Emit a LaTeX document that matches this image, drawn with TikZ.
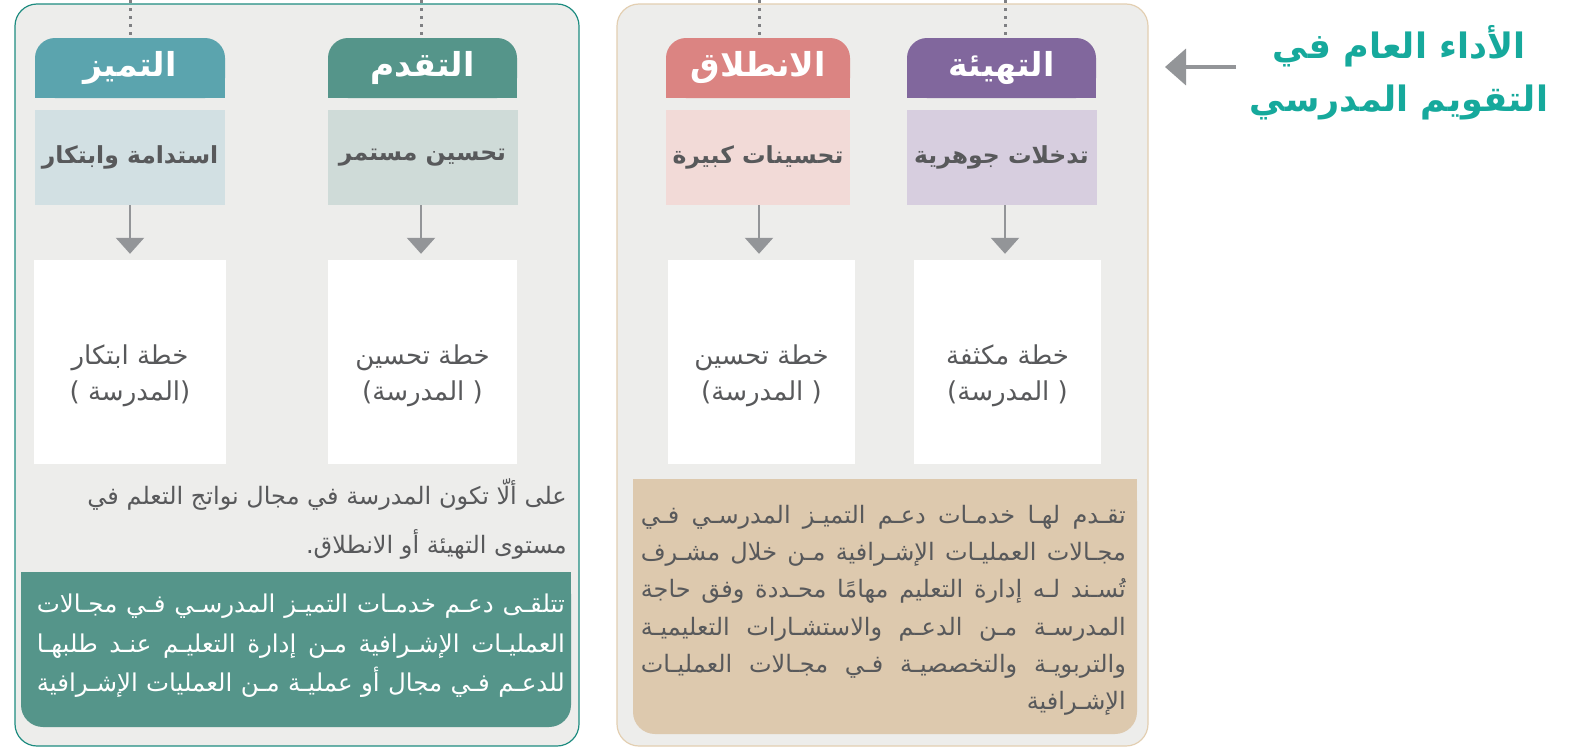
\documentclass[tikz,border=0pt]{standalone}
\usepackage{fontspec}
\usetikzlibrary{arrows.meta}
\TeXXeTstate=1
\newfontfamily\arf[Script=Arabic]{DejaVu Sans}
\newfontfamily\arb[Script=Arabic]{DejaVu Sans Bold}
\definecolor{panelbg}{HTML}{EDEDEB}
\definecolor{tealborder}{HTML}{1E8C80}
\definecolor{tanborder}{HTML}{E3CFB2}
\definecolor{hTamayuz}{HTML}{5BA4AE}
\definecolor{hTaqaddum}{HTML}{55958A}
\definecolor{hIntilaq}{HTML}{DB8482}
\definecolor{hTahyia}{HTML}{81679D}
\definecolor{sTamayuz}{HTML}{D2E0E3}
\definecolor{sTaqaddum}{HTML}{CFDBD8}
\definecolor{sIntilaq}{HTML}{F2DAD7}
\definecolor{sTahyia}{HTML}{D7CEDF}
\definecolor{greenbox}{HTML}{55958A}
\definecolor{tanbox}{HTML}{DDC9AE}
\definecolor{txtgray}{HTML}{58595B}
\definecolor{arrgray}{HTML}{939598}
\definecolor{dotgray}{HTML}{7F8083}
\definecolor{titleteal}{HTML}{16A99C}
\begin{document}
\begin{tikzpicture}[x=1pt,y=-1pt,
  hdrtext/.style={text=white,font={\arb\fontsize{33}{38}\selectfont},inner sep=0pt,minimum width=190pt,minimum height=60pt},
  subbox/.style={font={\arb\fontsize{23.5}{28}\selectfont},text=txtgray,inner sep=0pt,minimum width=190pt,minimum height=95pt},
  planbox/.style={fill=white,inner sep=0pt,minimum width=188pt,minimum height=204pt},
  plantext/.style={font={\arf\fontsize{26}{36}\selectfont},text=txtgray,inner sep=0pt,align=center},
  dots/.style={draw=dotgray,line width=3pt,dash pattern=on 3pt off 5pt},
  downarr/.style={draw=arrgray,line width=2.4pt,-{Triangle[width=28pt,length=16pt]}},
  leftarr/.style={draw=arrgray,line width=4pt,-{Triangle[width=36pt,length=21pt]}},
  bodytext/.style={inner sep=0pt,align=right}
]
\useasboundingbox (0,0) rectangle (1573,755);
\fill[white] (0,0) rectangle (1573,755);

% panels
\draw[fill=panelbg,draw=tealborder,line width=1.2pt,rounded corners=22pt] (15,4) rectangle (579,746);
\draw[fill=panelbg,draw=tanborder,line width=1.2pt,rounded corners=22pt] (617,4) rectangle (1148,746);

% header backgrounds (rounded top corners)
\foreach \xa/\xb/\c in {35/225/hTamayuz,328/517/hTaqaddum,666/850/hIntilaq,907/1096/hTahyia}{
  \fill[\c,rounded corners=20pt] (\xa,38) rectangle (\xb,98);
  \fill[\c] (\xa,70) rectangle (\xb,98);
}

% headers
\node[hdrtext] (hA) at (130,68) {\beginR التميز\endR};
\node[hdrtext] (hB) at (422.5,68) {\beginR التقدم\endR};
\node[hdrtext,minimum width=184pt] (hC) at (758,68) {\beginR الانطلاق\endR};
\node[hdrtext] (hD) at (1001.5,68) {\beginR التهيئة\endR};

% dotted lines from top
\coordinate (tA) at (130,0);
\coordinate (tB) at (421,0);
\coordinate (tC) at (759,0);
\coordinate (tD) at (1005,0);
\draw[dots] (tA) -- (tA |- hA.north);
\draw[dots] (tB) -- (tB |- hB.north);
\draw[dots] (tC) -- (tC |- hC.north);
\draw[dots] (tD) -- (tD |- hD.north);

% sub boxes
\node[subbox,fill=sTamayuz] (sA) at (130,157.5) {\beginR استدامة وابتكار\endR};
\node[subbox,fill=sTaqaddum] (sB) at (422.5,157.5) {\beginR تحسين مستمر\endR};
\node[subbox,fill=sIntilaq,minimum width=184pt] (sC) at (758,157.5) {\beginR تحسينات كبيرة\endR};
\node[subbox,fill=sTahyia] (sD) at (1001.5,157.5) {\beginR تدخلات جوهرية\endR};

% plan boxes
\node[planbox,minimum width=192pt] (wA) at (130,362) {};
\node[planbox,minimum width=189pt] (wB) at (422.5,362) {};
\node[planbox,minimum width=187pt] (wC) at (761.5,362) {};
\node[planbox,minimum width=187pt] (wD) at (1007.5,362) {};
\node[plantext] (wAt) at ([yshift=-14pt]wA.center) {\beginR خطة ابتكار\endR\\\beginR (المدرسة )\endR};
\node[plantext] (wBt) at ([yshift=-14pt]wB.center) {\beginR خطة تحسين\endR\\\beginR ( المدرسة)\endR};
\node[plantext] (wCt) at ([yshift=-14pt]wC.center) {\beginR خطة تحسين\endR\\\beginR ( المدرسة)\endR};
\node[plantext] (wDt) at ([yshift=-14pt]wD.center) {\beginR خطة مكثفة\endR\\\beginR ( المدرسة)\endR};

% arrows
\draw[downarr] (sA.south) -- ([yshift=6pt]sA.south |- wA.north);
\draw[downarr] (sB.south -| tB) -- ([yshift=6pt]tB |- wB.north);
\draw[downarr] (sC.south -| tC) -- ([yshift=6pt]tC |- wC.north);
\draw[downarr] (sD.south -| tD) -- ([yshift=6pt]tD |- wD.north);

% left panel note
\node[bodytext,text=txtgray,anchor=north east,font={\arf\fontsize{24}{49}\selectfont}] (note) at (567,478)
  {\beginR على ألّا تكون المدرسة في مجال نواتج التعلم في\endR\\\beginR مستوى التهيئة أو الانطلاق.\endR};

% green box
\fill[greenbox,rounded corners=22pt] (21,572) rectangle (571,727);
\fill[greenbox] (21,572) rectangle (571,640);
\node[bodytext,text=white,anchor=north east,font={\arf\fontsize{24.5}{39.5}\selectfont}] (gtext) at (565,594)
  {\makebox[528pt][s]{\beginR تتلقـى دعـم خدمـات التميـز المدرسـي فـي مجـالات\endR}\\
   \makebox[528pt][s]{\beginR العمليـات الإشـرافية مـن إدارة التعليـم عنـد طلبهـا\endR}\\
   \makebox[528pt][s]{\beginR للدعـم فـي مجال أو عمليـة مـن العمليات الإشـرافية\endR}};

% tan box
\fill[tanbox,rounded corners=22pt] (633,479) rectangle (1137,734);
\fill[tanbox] (633,479) rectangle (1137,560);
\node[bodytext,text=txtgray,anchor=north east,font={\arf\fontsize{24}{37.2}\selectfont}] (ttext) at (1126,505)
  {\makebox[485pt][s]{\beginR تقـدم لهـا خدمـات دعـم التميـز المدرسـي فـي\endR}\\
   \makebox[485pt][s]{\beginR مجـالات العمليـات الإشـرافية مـن خلال مشـرف\endR}\\
   \makebox[485pt][s]{\beginR تُسـند لـه إدارة التعليم مهامًا محـددة وفق حاجة\endR}\\
   \makebox[485pt][s]{\beginR المدرسـة مـن الدعـم والاستشـارات التعليميـة\endR}\\
   \makebox[485pt][s]{\beginR والتربويـة والتخصصيـة فـي مجـالات العمليـات\endR}\\
   \beginR الإشـرافية\endR};

% title
\node[font={\arb\fontsize{35}{53}\selectfont},text=titleteal,align=center,inner sep=0pt] (title) at (1399,73)
  {\beginR الأداء العام في\endR\\\beginR التقويم المدرسي\endR};
\coordinate (aS) at (1236,67);
\coordinate (aE) at (1165,67);
\draw[leftarr] (aS) -- (aE);
\end{tikzpicture}
\end{document}
